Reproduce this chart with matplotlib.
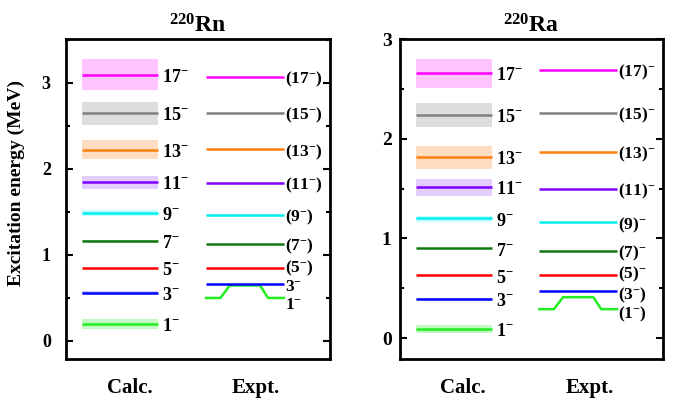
import matplotlib
matplotlib.use("Agg")
import matplotlib.pyplot as plt
from matplotlib.ticker import MultipleLocator

plt.rcParams['font.family'] = ['Liberation Serif', 'DejaVu Serif']
plt.rcParams['font.weight'] = 'bold'
plt.rcParams['axes.titleweight'] = 'bold'
plt.rcParams['axes.labelweight'] = 'bold'
plt.rcParams['mathtext.fontset'] = 'custom'
plt.rcParams['mathtext.rm'] = 'Liberation Serif:bold'
plt.rcParams['mathtext.bf'] = 'Liberation Serif:bold'
plt.rcParams['mathtext.it'] = 'Liberation Serif:bold'
plt.rcParams['mathtext.default'] = 'bf'

# ---------------- data ----------------
spins = ["1", "3", "5", "7", "9", "11", "13", "15", "17"]
colors = ["#22ee22", "#0000ff", "#ff0000", "#117711", "#00eeee",
          "#8000ff", "#ff7f0e", "#808080", "#ff00ff"]
band_colors = ["#55ee55", "#6666ff", "#ff6666", "#55aa55", "#55ffff",
               "#b070ff", "#ffa050", "#a0a0a0", "#ff55ff"]

# 220Rn
rn_calc = [0.20, 0.56, 0.85, 1.16, 1.49, 1.85, 2.22, 2.65, 3.09]
rn_calc_lo = [0.14, 0.54, 0.85, 1.145, 1.45, 1.77, 2.12, 2.51, 2.92]
rn_calc_hi = [0.26, 0.58, 0.85, 1.175, 1.52, 1.92, 2.34, 2.78, 3.28]
rn_expt = [0.645, 0.66, 0.85, 1.13, 1.47, 1.84, 2.23, 2.65, 3.07]
rn_expt_1_label_level = 0.50
rn_expt_labels = ["1$^{-}$", "3$^{-}$", "(5$^{-}$)", "(7$^{-}$)", "(9$^{-}$)",
                  "(11$^{-}$)", "(13$^{-}$)", "(15$^{-}$)", "(17$^{-}$)"]
rn_expt_label_y = [0.455, 0.665, 0.875, 1.13, 1.47, 1.84, 2.23, 2.65, 3.07]

# 220Ra
ra_calc = [0.09, 0.39, 0.63, 0.90, 1.20, 1.52, 1.82, 2.24, 2.66]
ra_calc_lo = [0.05, 0.38, 0.63, 0.895, 1.16, 1.43, 1.70, 2.12, 2.51]
ra_calc_hi = [0.13, 0.40, 0.63, 0.905, 1.22, 1.60, 1.93, 2.36, 2.80]
ra_expt = [0.41, 0.47, 0.63, 0.87, 1.16, 1.50, 1.87, 2.26, 2.69]
ra_expt_1_label_level = 0.29
ra_expt_labels = ["(1$^{-}$)", "(3$^{-}$)", "(5)$^{-}$", "(7)$^{-}$", "(9)$^{-}$",
                  "(11)$^{-}$", "(13)$^{-}$", "(15)$^{-}$", "(17)$^{-}$"]
ra_expt_label_y = [0.265, 0.46, 0.665, 0.88, 1.16, 1.50, 1.87, 2.26, 2.69]

calc_labels = [s + "$^{-}$" for s in spins]
calc_x = (0.06, 0.35)
expt_x = (0.53, 0.825)
bump_x = [0.53, 0.585, 0.62, 0.735, 0.765, 0.825]

fig = plt.figure(figsize=(6.85, 4.01), dpi=100)
ax1 = fig.add_axes([0.0964, 0.1047, 0.3854, 0.798])
ax2 = fig.add_axes([0.5839, 0.1047, 0.384, 0.798])


def draw(ax, calc, lo, hi, expt, lvl1, elabels, elabel_y, ylim, title,
         tick_size, tick_pad):
    for i in range(len(spins)):
        ax.fill_between(calc_x, lo[i], hi[i], color=band_colors[i], alpha=0.35, lw=0)
        ax.plot(calc_x, [calc[i], calc[i]], color=colors[i], lw=1.8, solid_capstyle='butt')
        ax.annotate(calc_labels[i], (0.365, calc[i]), xytext=(0, -2),
                    textcoords='offset points', ha='left', va='center', fontsize=13)
        if i == 0:
            ys = [lvl1, lvl1, expt[0], expt[0], lvl1, lvl1]
            ax.plot(bump_x, ys, color=colors[i], lw=1.8)
        else:
            ax.plot(expt_x, [expt[i], expt[i]], color=colors[i], lw=1.8, solid_capstyle='butt')
        ax.annotate(elabels[i], (0.828, elabel_y[i]), xytext=(0, -2),
                    textcoords='offset points', ha='left', va='center', fontsize=12.5)
    ax.set_xlim(0, 1)
    ax.set_ylim(*ylim)
    ax.yaxis.set_major_locator(MultipleLocator(1))
    ax.yaxis.set_minor_locator(MultipleLocator(0.5))
    ax.tick_params(axis='y', which='both', direction='in', left=True, right=True,
                   labelsize=tick_size, width=1.5, pad=tick_pad)
    ax.tick_params(axis='y', which='major', length=5)
    ax.tick_params(axis='y', which='minor', length=3)
    for lab in ax.get_yticklabels():
        lab.set_fontweight('bold')
    ax.set_xticks([0.24, 0.72])
    ax.set_xticklabels(["Calc.", "Expt."], fontsize=15, fontweight='bold')
    ax.tick_params(axis='x', length=0, pad=14)
    for sp in ax.spines.values():
        sp.set_linewidth(2)
    ax.set_title(title, fontsize=17, pad=5)


draw(ax1, rn_calc, rn_calc_lo, rn_calc_hi, rn_expt, rn_expt_1_label_level,
     rn_expt_labels, rn_expt_label_y, (-0.21, 3.51), "$^{220}$Rn", 13, 11)
draw(ax2, ra_calc, ra_calc_lo, ra_calc_hi, ra_expt, ra_expt_1_label_level,
     ra_expt_labels, ra_expt_label_y, (-0.21, 3.0), "$^{220}$Ra", 14, 6)

ax1.set_ylabel("Excitation energy (MeV)", fontsize=14, fontweight='bold')
ax1.yaxis.set_label_coords(-0.155, 0.55)

fig.savefig("out.png", dpi=100)
